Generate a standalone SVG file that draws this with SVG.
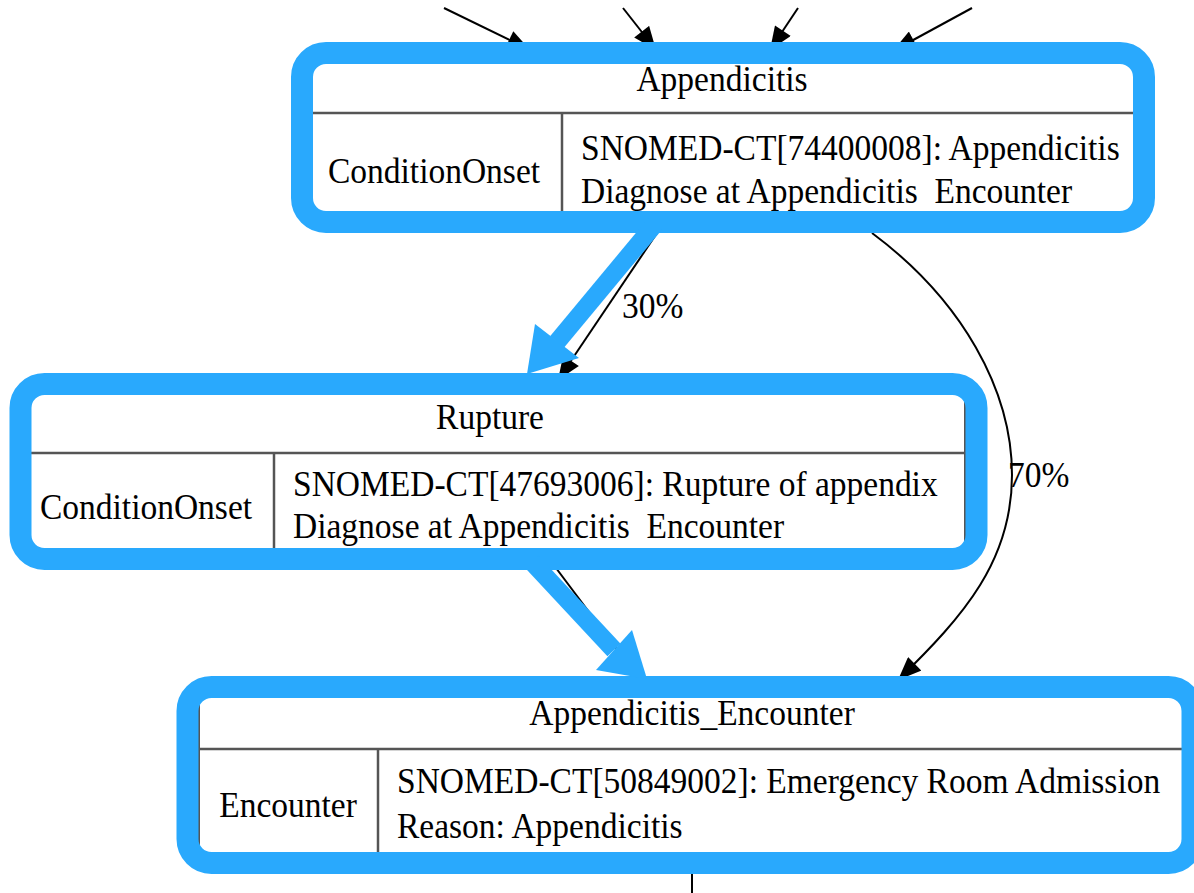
<svg xmlns="http://www.w3.org/2000/svg" width="1194" height="893" viewBox="0 0 1194 893">
<defs>
<style>
.t{font-family:"Liberation Serif","Times New Roman",serif;font-size:33.5px;fill:#000;white-space:pre}
.m{text-anchor:middle}
.nb{fill:#fff;stroke:#555;stroke-width:2}
.sep{stroke:#555;stroke-width:2.5;fill:none}
.e{stroke:#000;stroke-width:2;fill:none}
.hl{fill:none;stroke:#29a9fd;stroke-width:22}
.ba{stroke:#29a9fd;stroke-width:18;fill:none}
.bh{fill:#29a9fd}
</style>
<marker id="ah" viewBox="0 0 22 18" refX="22" refY="9" markerWidth="24" markerHeight="19" markerUnits="userSpaceOnUse" orient="auto">
<path d="M0,0 L22,9 L0,18 z" fill="#000"/>
</marker>
</defs>
<rect width="1194" height="893" fill="#fff"/>
<g id="connectors">
<line class="e" x1="444" y1="8" x2="530" y2="50" marker-end="url(#ah)"/>
<line class="e" x1="623" y1="8" x2="656" y2="50" marker-end="url(#ah)"/>
<line class="e" x1="798" y1="8" x2="770" y2="50" marker-end="url(#ah)"/>
<line class="e" x1="972" y1="8" x2="893" y2="51" marker-end="url(#ah)"/>
<line class="e" x1="657" y1="233" x2="558" y2="380" marker-end="url(#ah)"/>
<line class="e" x1="550" y1="560" x2="640" y2="680" marker-end="url(#ah)"/>
<path class="e" d="M872,233 C962,300 1012,390 1012,475 C1012,560 965,615 898,680" marker-end="url(#ah)"/>
<line class="e" x1="692" y1="860" x2="692" y2="893"/>
<text class="t" transform="translate(622,318) scale(1,1.08)">30%</text>
<text class="t" transform="translate(1008,487) scale(1,1.08)">70%</text>
</g>
<g id="node-appendicitis">
<rect class="nb" x="310" y="61" width="826" height="153" rx="8"/>
<line class="sep" x1="310" y1="113" x2="1136" y2="113"/>
<line class="sep" x1="562" y1="113" x2="562" y2="214"/>
<text class="t m" transform="translate(722,91) scale(1,1.08)">Appendicitis</text>
<text class="t m" transform="translate(434,183) scale(1,1.08)">ConditionOnset</text>
<text class="t" transform="translate(581,160) scale(1,1.08)">SNOMED-CT[74400008]: Appendicitis</text>
<text class="t" transform="translate(581,203) scale(1,1.08)">Diagnose at Appendicitis  Encounter</text>
</g>
<g id="node-rupture">
<rect class="nb" x="29" y="393" width="936" height="157" rx="8"/>
<line class="sep" x1="29" y1="453" x2="965" y2="453"/>
<line class="sep" x1="274" y1="453" x2="274" y2="550"/>
<text class="t m" transform="translate(490,429) scale(1,1.08)">Rupture</text>
<text class="t m" transform="translate(146,519) scale(1,1.08)">ConditionOnset</text>
<text class="t" transform="translate(293,496) scale(1,1.08)">SNOMED-CT[47693006]: Rupture of appendix</text>
<text class="t" transform="translate(293,538) scale(1,1.08)">Diagnose at Appendicitis  Encounter</text>
</g>
<g id="node-appendicitis-encounter">
<rect class="nb" x="199" y="695" width="986" height="160" rx="8"/>
<line class="sep" x1="199" y1="749" x2="1185" y2="749"/>
<line class="sep" x1="378" y1="749" x2="378" y2="855"/>
<text class="t m" transform="translate(692,725) scale(1,1.08)">Appendicitis_Encounter</text>
<text class="t m" transform="translate(288,817) scale(1,1.08)">Encounter</text>
<text class="t" transform="translate(397,793) scale(1,1.08)">SNOMED-CT[50849002]: Emergency Room Admission</text>
<text class="t" transform="translate(397,838) scale(1,1.08)">Reason: Appendicitis</text>
</g>
<g id="highlights">
<rect class="hl" x="302" y="53" width="842" height="169" rx="24"/>
<rect class="hl" x="20.5" y="384" width="956" height="175" rx="24"/>
<rect class="hl" x="187.5" y="687" width="1005" height="176" rx="24"/>
<line class="ba" x1="655" y1="224" x2="557" y2="342"/>
<polygon class="bh" points="527,374 535,324 579,358"/>
<line class="ba" x1="532" y1="562" x2="614" y2="650"/>
<polygon class="bh" points="647,679 596,670 632,630"/>
</g>
</svg>
